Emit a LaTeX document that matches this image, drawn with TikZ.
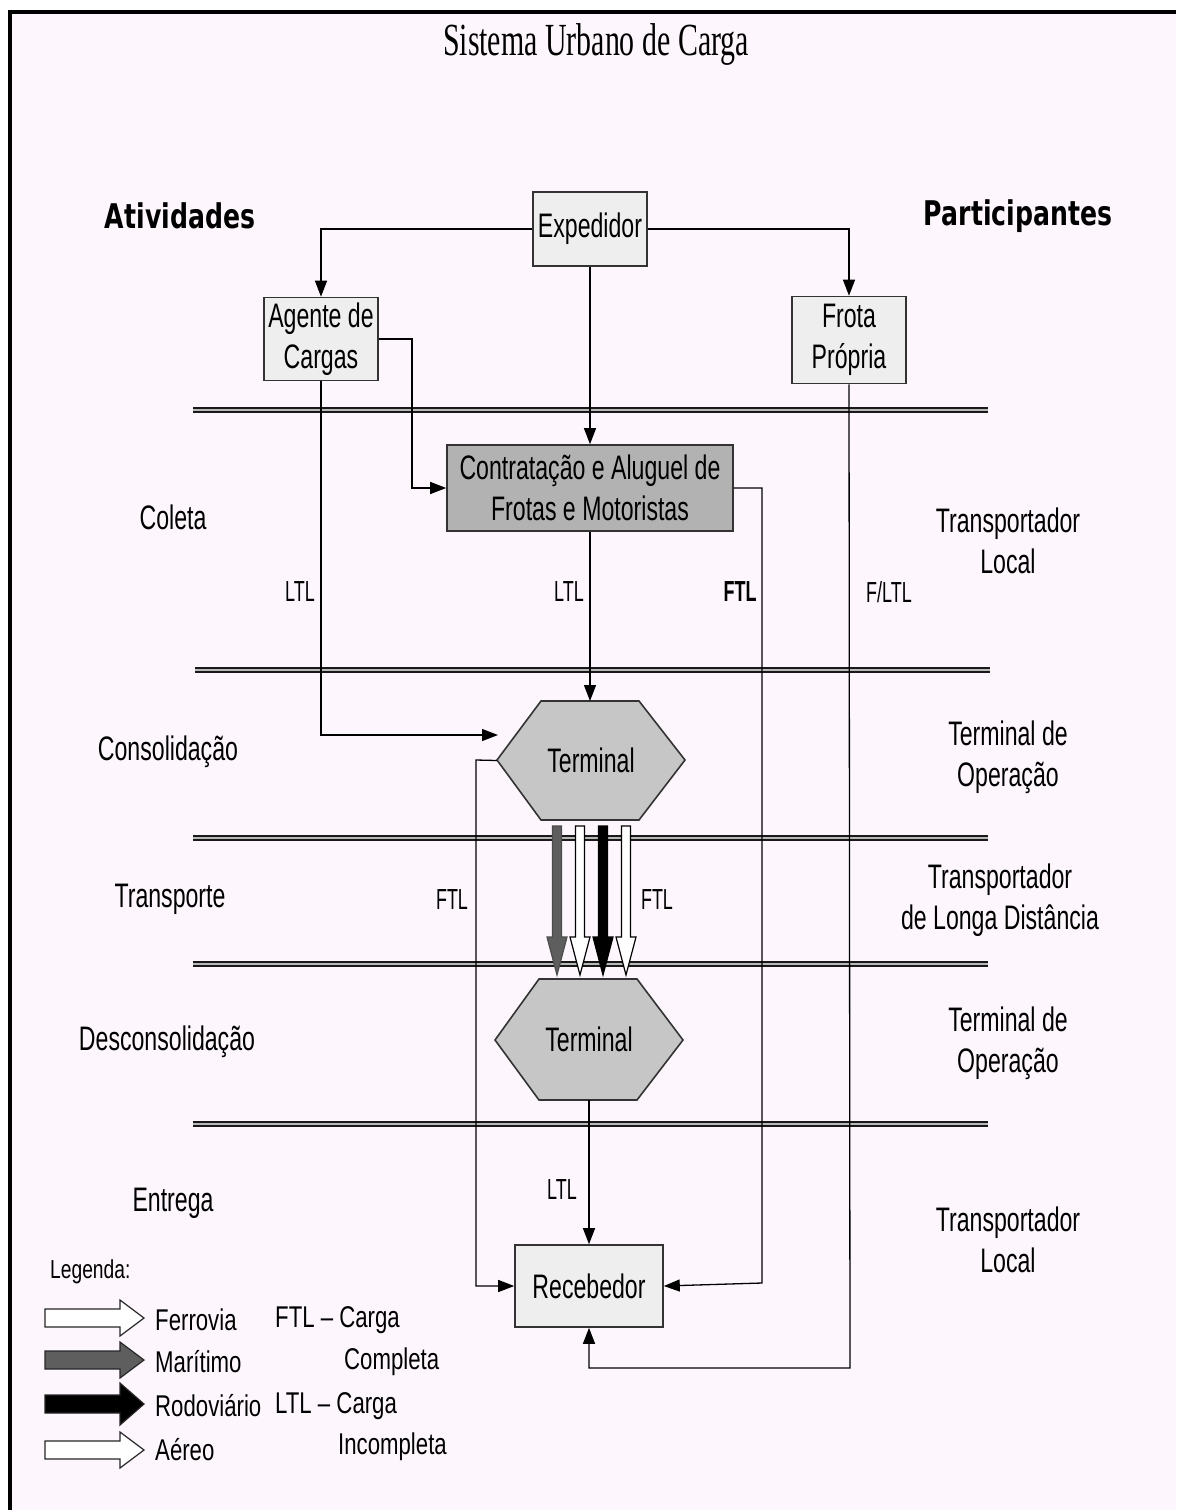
\documentclass[tikz,border=0pt]{standalone}
\usepackage{fontspec}
\setmainfont{Liberation Sans}
\newfontfamily\lab[FakeStretch=0.68]{Liberation Sans}
\newfontfamily\labs[FakeStretch=0.62]{Liberation Sans}
\newfontfamily\labl[FakeStretch=0.74]{Liberation Sans}
\newfontfamily\ttl[FakeStretch=0.65]{Liberation Serif}
\newfontfamily\hdr[FakeStretch=0.74]{DejaVu Sans}
\usetikzlibrary{arrows.meta}
\definecolor{bg}{HTML}{FDF7FD}
\definecolor{boxlight}{HTML}{EEEEEE}
\definecolor{boxmid}{HTML}{B2B2B2}
\definecolor{hexfill}{HTML}{C6C6C6}
\definecolor{seaarrow}{HTML}{5E5E5E}
\newcommand\blkarrow[3]{%
  \filldraw[fill=#2, draw=#3, line width=1.2pt, line join=miter]
    (#1-4.5,826) -- (#1+4.5,826) -- (#1+4.5,937) -- (#1+10,937) -- (#1,975)
    -- (#1-10,937) -- (#1-4.5,937) -- cycle;}
\newcommand\legarrow[3]{%
  \filldraw[fill=#2, draw=black!85, line width=1.2pt, line join=miter]
    (45,#1-9) -- (120,#1-9) -- (120,#1-#3) -- (144,#1) -- (120,#1+#3)
    -- (120,#1+9) -- (45,#1+9) -- cycle;}
\begin{document}
\begin{tikzpicture}[x=1pt,y=-1pt,
  lbl/.style={font=\lab\fontsize{34}{41}\selectfont, align=center, inner sep=0pt},
  small/.style={font=\labs\fontsize{29}{32}\selectfont, inner sep=0pt},
  leg/.style={font=\labl\fontsize{30}{34}\selectfont, inner sep=0pt, anchor=west},
  hdrs/.style={font=\hdr\bfseries\fontsize{34}{40}\selectfont, inner sep=0pt},
  box/.style={draw=black!80, line width=1.6pt, fill=boxlight, align=center,
    font=\lab\fontsize{34}{41}\selectfont, inner sep=0pt},
  conn/.style={line width=1.3pt, -{Triangle[length=16pt,width=12pt]}},
  sepline/.style={draw=black!90, line width=2.3pt, double=gray!55, double distance=2pt}]
\useasboundingbox (0,0) rectangle (1176,1510);
\fill[white] (0,0) rectangle (1176,1510);
\fill[bg] (10,12) rectangle (1176,1510);
\draw[line width=4pt] (10,1510) -- (10,12) -- (1176,12);

% title and headers
\node[font=\ttl\fontsize{46}{50}\selectfont, inner sep=0pt] (title) at (596,45) {Sistema Urbano de Carga};
\node[hdrs] (ativ) at (180,216) {Atividades};
\node[hdrs] (part) at (1018,216) {Participantes};

% separator lines
\draw[sepline] (193,410) -- (988,410);
\draw[sepline] (195,670) -- (990,670);
\draw[sepline] (193,838) -- (988,838);
\draw[sepline] (193,964) -- (988,964);
\draw[sepline] (193,1124) -- (988,1124);

% boxes
\node[box, minimum width=114pt, minimum height=74pt] (exp) at (590,229) {Expedidor};
\node[box, minimum width=114pt, minimum height=83pt] (agt) at (321,339) {Agente de\\Cargas};
\node[box, minimum width=114pt, minimum height=87pt] (frota) at (849,340) {Frota\\Própria};
\node[box, fill=boxmid, minimum width=286pt, minimum height=86pt] (contr) at (590,488) {Contratação e Aluguel de\\Frotas e Motoristas};
\node[box, minimum width=148pt, minimum height=82pt] (rec) at (589,1286) {Recebedor};

% terminals
\filldraw[fill=hexfill, draw=black!80, line width=1.6pt]
  (497,760) -- (541,701) -- (639,701) -- (685,760) -- (639,820) -- (541,820) -- cycle;
\node[lbl, minimum width=188pt, minimum height=119pt] (t1) at (591,760.5) {Terminal};
\filldraw[fill=hexfill, draw=black!80, line width=1.6pt]
  (495,1040) -- (539,979) -- (637,979) -- (683,1040) -- (637,1100) -- (539,1100) -- cycle;
\node[lbl, minimum width=188pt, minimum height=121pt] (t2) at (589,1039.5) {Terminal};

% block arrows
\blkarrow{557}{seaarrow}{black!70}
\blkarrow{580}{white}{black}
\blkarrow{603}{black}{black}
\blkarrow{626}{white}{black}

% connectors
\coordinate (t1in) at (498,735);
\coordinate (t1top) at (590,701);
\draw[conn] (exp.west) -| (agt.north);
\draw[conn] (exp.east) -| (frota.north);
\draw[conn] (exp.south) -- (contr.north);
\draw[conn] (agt.east) -- (412,339) |- (contr.west);
\draw[conn] (agt.south) |- (t1in);
\draw[conn] (contr.south) -- (t1top);
\draw[conn] (contr.east) -| (762,1283) -- (rec.east);
\draw[conn] (frota.south) -- (850,1368) -| (rec.south);
\draw[conn] (t1.west) -- (476,760) |- (rec.west);
\draw[conn] (t2.south) -- (rec.north);

% connector labels
\node[small] (l1) at (300,592) {LTL};
\node[small] (l2) at (569,592) {LTL};
\node[small, font=\labs\bfseries\fontsize{29}{32}\selectfont] (l3) at (740,592) {FTL};
\node[small] (l4) at (889,592) {F/LTL};
\node[small] (l5) at (452,900) {FTL};
\node[small] (l6) at (657,900) {FTL};
\node[small] (l7) at (562,1190) {LTL};

% activity labels
\node[lbl] (a1) at (173,517) {Coleta};
\node[lbl] (a2) at (168,752) {Consolidação};
\node[lbl] (a3) at (170,899) {Transporte};
\node[lbl] (a4) at (167,1042) {Desconsolidação};
\node[lbl] (a5) at (173,1203) {Entrega};

% participant labels
\node[lbl] (p1) at (1008,541) {Transportador\\Local};
\node[lbl] (p2) at (1008,757) {Terminal de\\Operação};
\node[lbl] (p3) at (1000,900) {Transportador\\de Longa Distância};
\node[lbl] (p4) at (1008,1043) {Terminal de\\Operação};
\node[lbl] (p5) at (1008,1240) {Transportador\\Local};

% legend
\node[leg, font=\labl\fontsize{26}{30}\selectfont] (legt) at (50,1272) {Legenda:};
\legarrow{1318}{white}{18}
\legarrow{1360}{seaarrow}{18}
\legarrow{1404}{black}{21}
\legarrow{1450}{white}{18}
\node[leg] (lg1) at (155,1320) {Ferrovia};
\node[leg] (lg2) at (155,1362) {Marítimo};
\node[leg] (lg3) at (155,1406) {Rodoviário};
\node[leg] (lg4) at (155,1450) {Aéreo};
\node[leg] (lg5) at (275,1320) {FTL – Carga};
\node[leg] (lg6) at (344,1362) {Completa};
\node[leg] (lg7) at (275,1406) {LTL – Carga};
\node[leg] (lg8) at (338,1447) {Incompleta};
\end{tikzpicture}
\end{document}
